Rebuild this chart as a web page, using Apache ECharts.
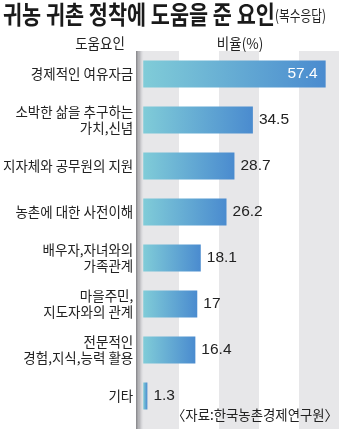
<!DOCTYPE html>
<html>
<head>
<meta charset="utf-8">
<script src="https://cdn.jsdelivr.net/npm/echarts@6/dist/echarts.min.js"></script>
<style>
html,body{margin:0;padding:0;background:#fff;}
#chart{width:340px;height:429px;}
</style>
</head>
<body>
<div id="chart"></div>
<script>
var categories = [
  '경제적인 여유자금',
  '소박한 삶을 추구하는\n가치,신념',
  '지자체와 공무원의 지원',
  '농촌에 대한 사전이해',
  '배우자,자녀와의\n가족관계',
  '마을주민,\n지도자와의 관계',
  '전문적인\n경험,지식,능력 활용',
  '기타'
];
var values = [57.4, 34.5, 28.7, 26.2, 18.1, 17, 16.4, 1.3];
var titleText = '귀농 귀촌 정착에 도움을 준 요인';
var subTitleText = '(복수응답)';
var headerLeft = '도움요인';
var headerRight = '비율(%)';
var sourceText = '〈자료:한국농촌경제연구원〉';

var KR = '"Noto Sans CJK KR", "Noto Sans", sans-serif';
var NUM = '"Liberation Sans", Arial, sans-serif';

var chart = echarts.init(document.getElementById('chart'), null, {renderer: 'canvas'});
var axisMax = 61.6, axisStep = 12.32;

var option = {
  backgroundColor: '#ffffff',
  animation: false,
  grid: [
    {left: 139, top: 51, width: 200, height: 368, containLabel: false},
    {left: 139, top: 51, width: 200, bottom: 0, containLabel: false}
  ],
  xAxis: [
    {gridIndex: 0, type: 'value', min: 0, max: axisMax, interval: axisStep,
     axisLine: {show: false}, axisTick: {show: false}, axisLabel: {show: false},
     splitLine: {show: false}, splitArea: {show: false}},
    {gridIndex: 1, type: 'value', min: 0, max: axisMax, interval: axisStep,
     axisLine: {show: false}, axisTick: {show: false}, axisLabel: {show: false},
     splitLine: {show: false},
     splitArea: {show: true, areaStyle: {color: ['#e7e7e9', '#ffffff']}}}
  ],
  yAxis: [
    {gridIndex: 0, type: 'category', data: categories, inverse: true,
     axisLine: {show: false}, axisTick: {show: false},
     axisLabel: {margin: 10, color: '#222', fontFamily: KR, fontSize: 13.5, lineHeight: 16, align: 'right'}},
    {gridIndex: 1, type: 'category', data: ['a'],
     axisLine: {show: false}, axisTick: {show: false}, axisLabel: {show: false}}
  ],
  series: [{
    type: 'bar',
    xAxisIndex: 0, yAxisIndex: 0,
    barWidth: 27,
    z: 3,
    data: values.map(function (v, i) {
      var d = {value: v};
      if (i === 0) {
        d.label = {position: 'insideRight', distance: 8, color: '#ffffff'};
      }
      return d;
    }),
    itemStyle: {
      color: new echarts.graphic.LinearGradient(0, 0, 1, 0, [
        {offset: 0, color: '#80ccd8'},
        {offset: 1, color: '#4a8bcf'}
      ])
    },
    label: {
      show: true, position: 'right', distance: 6,
      color: '#222', fontFamily: NUM, fontSize: 15.5,
      formatter: function (p) { return String(p.value); }
    }
  }],
  graphic: [
    {type: 'rect', z: 1, shape: {x: 136, y: 51, width: 8, height: 378},
     style: {fill: new echarts.graphic.LinearGradient(0, 0, 1, 0, [
       {offset: 0, color: 'rgba(90,90,95,0.75)'},
       {offset: 0.5, color: 'rgba(150,150,155,0.5)'},
       {offset: 1, color: 'rgba(220,220,225,0)'}
     ])}},
    {type: 'text', z: 10, x: 3, y: 2, scaleX: 0.865, scaleY: 1.05,
     style: {text: titleText, fontFamily: KR, fontWeight: 'bold', fontSize: 24, fill: '#1a1a1a', textVerticalAlign: 'top'}},
    {type: 'text', z: 10, x: 275, y: 8, scaleX: 0.9, scaleY: 1.15,
     style: {text: subTitleText, fontFamily: KR, fontSize: 13, fill: '#222', textVerticalAlign: 'top'}},
    {type: 'text', z: 10, x: 100, y: 43, scaleY: 1.1,
     style: {text: headerLeft, fontFamily: KR, fontSize: 13.5, fill: '#222', textAlign: 'center', textVerticalAlign: 'middle'}},
    {type: 'text', z: 10, x: 240, y: 43, scaleY: 1.1,
     style: {text: headerRight, fontFamily: KR, fontSize: 13.5, fill: '#222', textAlign: 'center', textVerticalAlign: 'middle'}},
    {type: 'text', z: 10, x: 338, y: 415, scaleY: 1.05,
     style: {text: sourceText, fontFamily: KR, fontSize: 13.4, fill: '#222', textAlign: 'right', textVerticalAlign: 'middle'}}
  ]
};
chart.setOption(option);
</script>
</body>
</html>
